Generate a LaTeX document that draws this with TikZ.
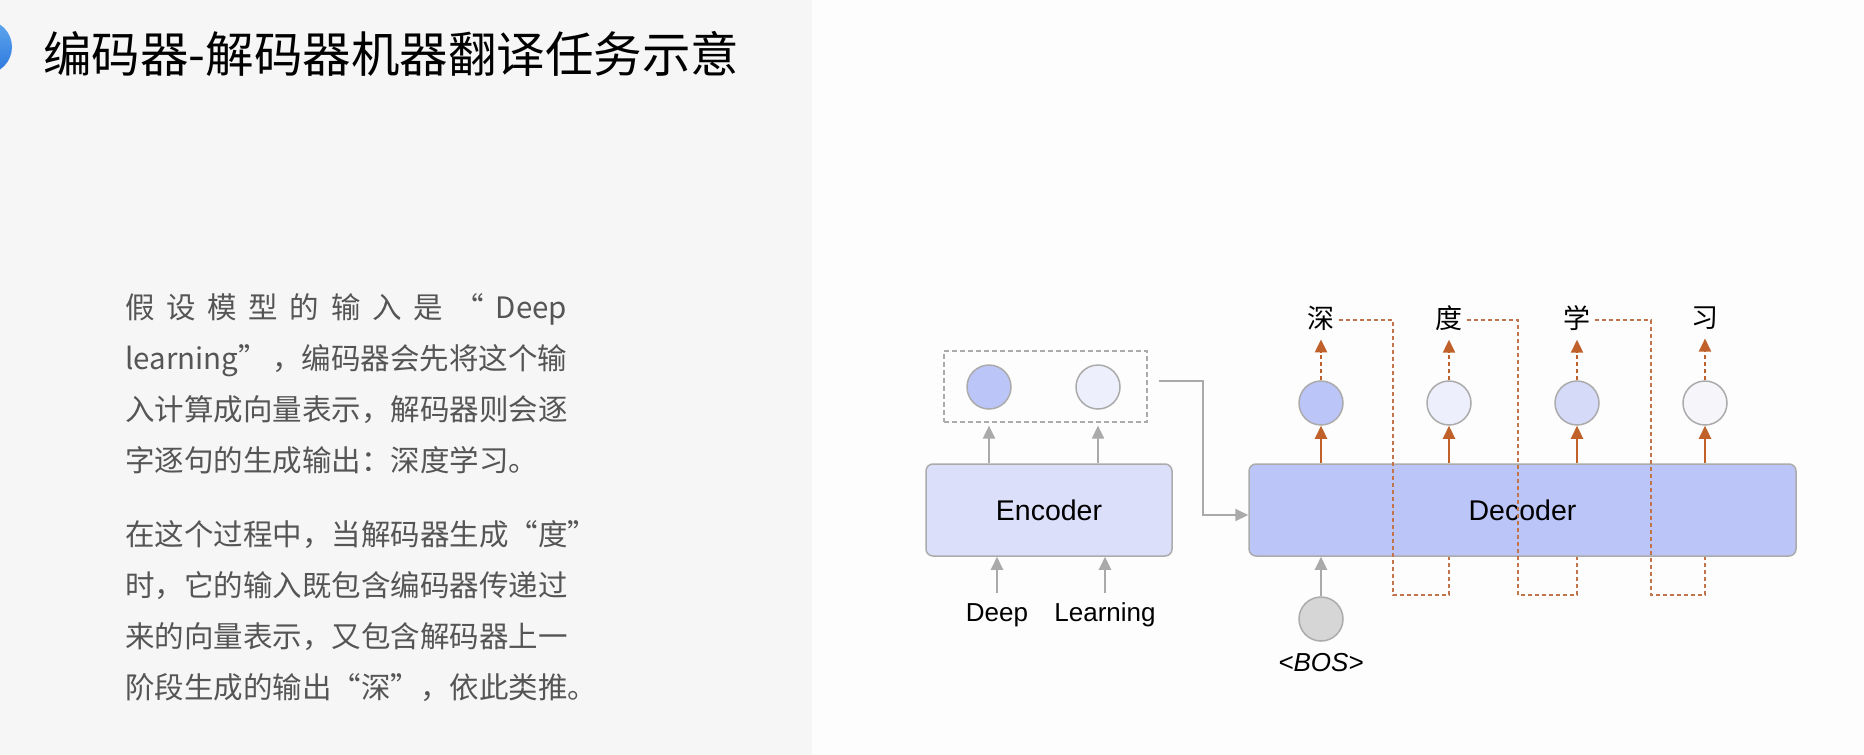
\documentclass[tikz,border=0pt]{standalone}
\usepackage{fontspec}
\setmainfont{Liberation Sans}
\newfontfamily\cjk{Noto Sans CJK SC}
\usepackage{tikz}
\usetikzlibrary{arrows.meta, positioning}

\definecolor{panelgray}{HTML}{F6F6F6}
\definecolor{pagewhite}{HTML}{FDFDFD}
\definecolor{encfill}{HTML}{DCDFFA}
\definecolor{decfill}{HTML}{BCC5F8}
\definecolor{edgegray}{HTML}{ABABAB}
\definecolor{arrowgray}{HTML}{AAAAAA}
\definecolor{outorange}{HTML}{C0612B}
\definecolor{loopbrown}{HTML}{C2744A}
\definecolor{textgray}{HTML}{555555}
\definecolor{bosfill}{HTML}{D6D6D6}
\definecolor{dotblue}{HTML}{3A92EA}
\definecolor{dotdeep}{HTML}{2B76DE}
\definecolor{vecA}{HTML}{BCC5F7}
\definecolor{vecB}{HTML}{EEEFFC}
\definecolor{vecC}{HTML}{D5DAF9}
\definecolor{vecD}{HTML}{F5F5FA}

\begin{document}
\begin{tikzpicture}[x=1pt, y=-1pt, >={Triangle[length=13pt,width=12pt]},
  block/.style={rectangle, rounded corners=7pt, draw=edgegray, line width=1.5pt,
    font=\fontsize{28.5}{32}\selectfont},
  state/.style={circle, draw=edgegray, line width=1.5pt, minimum size=44pt, inner sep=0pt},
  feed/.style={->, draw=arrowgray, line width=2pt},
  emit/.style={->, draw=outorange, line width=2.2pt},
  emitdash/.style={emit, dash pattern=on 4pt off 3pt},
  loopback/.style={draw=loopbrown, line width=1.5pt, dash pattern=on 4pt off 3pt},
  word/.style={inner sep=0pt, font=\fontsize{26}{30}\selectfont},
  outchar/.style={inner sep=0pt, font=\cjk\fontsize{27}{30}\selectfont},
  para/.style={anchor=north west, inner sep=0pt, align=left, text=textgray,
    font=\cjk\fontsize{29.5}{51}\selectfont}
]

% Page background
\fill[pagewhite] (0,0) rectangle (1864,755);
\fill[panelgray] (0,0) rectangle (812,755);
\useasboundingbox (0,0) rectangle (1864,755);
\begin{scope}
  \clip (0,0) rectangle (812,755);
  \shade[top color=dotblue!80!white, bottom color=dotdeep] (-15,47) circle (27pt);
\end{scope}

% Title and explanation
\node[anchor=west, inner sep=0pt, font=\cjk\fontsize{48.5}{56}\selectfont] (title) at (43,54)
  {编码器-解码器机器翻译任务示意};
\node[para] (para1) at (125,293) {%
  \makebox[442pt][s]{假 设 模 型 的 输 入 是 “ Deep}\\
  \makebox[442pt][s]{learning” ，编码器会先将这个输}\\
  入计算成向量表示，解码器则会逐\\
  字逐句的生成输出：深度学习。};
\node[para] (para2) at (125,520) {%
  在这个过程中，当解码器生成“度”\\
  时，它的输入既包含编码器传递过\\
  来的向量表示，又包含解码器上一\\
  阶段生成的输出“深”，依此类推。};

% Encoder
\node[block, fill=encfill, minimum width=246pt, minimum height=92pt] (enc) at (1049,510) {Encoder};
\node[state, fill=vecA] (h1) at (989,387) {};
\node[state, fill=vecB] (h2) at (1098,387) {};
\node[draw=edgegray, line width=1.2pt, dash pattern=on 5pt off 3pt,
  minimum width=203pt, minimum height=71pt] (ctx) at (1045.5,386.5) {};
\node[word] (w1) at (997,615) {Deep};
\node[word] (w2) at (1105,615) {Learning};

\draw[feed] ([yshift=10pt]w1.north) -- (w1.north |- enc.south);
\draw[feed] ([yshift=10pt]w2.north) -- (w2.north |- enc.south);
\draw[feed, shorten >=3pt] (enc.north -| h1) -- (ctx.south -| h1);
\draw[feed, shorten >=3pt] (enc.north -| h2) -- (ctx.south -| h2);

% Decoder
\node[block, fill=decfill, minimum width=547pt, minimum height=92pt] (dec) at (1522.5,510) {Decoder};
\coordinate (bend) at (1203,515);
\draw[feed] ([xshift=11pt,yshift=6pt]ctx.east) -| (bend) -- (bend -| dec.west);

\node[state, fill=bosfill] (bos) at (1321,619) {};
\node[word, font=\itshape\fontsize{26}{30}\selectfont] (boslbl) at (1321,663) {<BOS>};
\draw[feed] (bos.north) -- (dec.south -| bos);

% Outputs, one per step
\foreach \i/\x/\ch/\col in {1/1321/深/vecA, 2/1449/度/vecB, 3/1577/学/vecC, 4/1705/习/vecD} {
  \node[state, fill=\col] (y\i) at (\x,403) {};
  \node[outchar] (c\i) at (\x,318) {\ch};
  \draw[emit] (dec.north -| y\i) -- (y\i.south);
  \draw[emitdash, shorten >=9pt] (y\i.north) -- (c\i.south);
}

% Each output is fed back as the next input
\foreach \i/\j/\vx in {1/2/1393, 2/3/1518, 3/4/1651}
  \draw[loopback] ([xshift=4pt,yshift=-2pt]c\i.east) -| (\vx,595) -| (dec.south -| y\j);

\end{tikzpicture}
\end{document}
